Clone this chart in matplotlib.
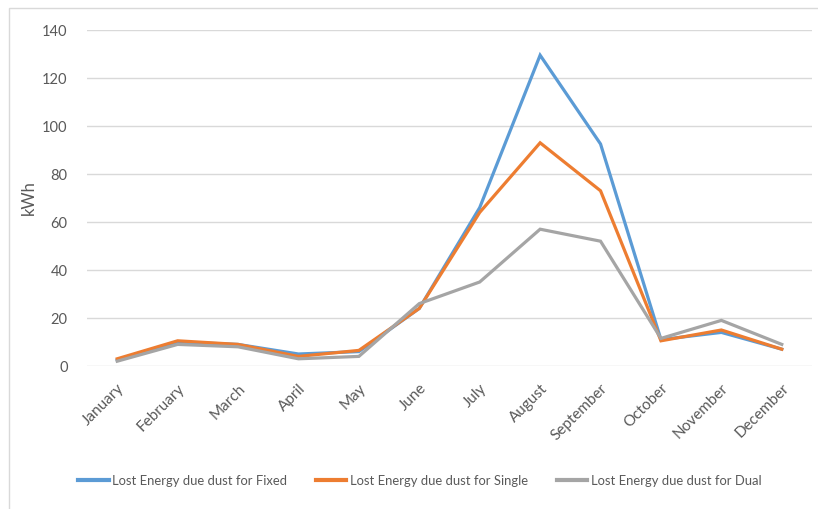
import matplotlib
matplotlib.use("Agg")
import matplotlib.pyplot as plt
from matplotlib.patches import Rectangle

months = ["January", "February", "March", "April", "May", "June",
          "July", "August", "September", "October", "November", "December"]
fixed = [2.5, 10, 9, 5, 6, 24, 66, 129.5, 92.5, 11, 14, 7]
single = [3, 10.5, 9, 4, 6.5, 24, 64, 93, 73, 10.5, 15, 7]
dual = [2, 9, 8, 3, 4, 26, 35, 57, 52, 11.5, 19, 9]
series_names = ["Lost Energy due dust for Fixed",
                "Lost Energy due dust for Single",
                "Lost Energy due dust for Dual"]
colors = ["#5B9BD5", "#ED7D31", "#A5A5A5"]
yticks = [0, 20, 40, 60, 80, 100, 120, 140]

plt.rcParams["font.family"] = ["Lato", "DejaVu Sans"]
text_color = "#595959"

fig = plt.figure(figsize=(8.18, 5.09), dpi=100)
fig.patches.append(Rectangle((9 / 818, -0.1), 1.2, 1 - 8 / 509 + 0.1,
                             transform=fig.transFigure, fill=False,
                             edgecolor="#D9D9D9", linewidth=1.0))

ax = fig.add_axes([87 / 818, 1 - 366 / 509, (812 - 87) / 818, (366 - 30) / 509])
x = range(len(months))
for vals, name, c in zip([fixed, single, dual], series_names, colors):
    ax.plot(x, vals, color=c, linewidth=2.3, label=name,
            solid_joinstyle="miter", zorder=3)

ax.set_xlim(-0.5, len(months) - 0.5)
ax.set_ylim(0, 140)
ax.set_yticks(yticks)
ax.set_yticklabels([str(v) for v in yticks])
ax.yaxis.grid(True, color="#D9D9D9", linewidth=1.0)
ax.set_axisbelow(True)
for s in ax.spines.values():
    s.set_visible(False)
ax.tick_params(axis="both", length=0, colors=text_color)
ax.tick_params(axis="y", pad=14, labelsize=10.5)
ax.set_xticks(list(x))
ax.set_xticklabels(months, rotation=45, ha="right", rotation_mode="anchor")
ax.tick_params(axis="x", pad=11, labelsize=11)
ax.set_ylabel("kWh", color=text_color, fontsize=12, labelpad=4)

leg = fig.legend(loc="center", bbox_to_anchor=(420 / 818, 1 - 481 / 509), ncol=3,
                 frameon=False, fontsize=9.4, handlelength=2.3,
                 columnspacing=2.2, handletextpad=0.3)
for t in leg.get_texts():
    t.set_color(text_color)
for h in leg.legend_handles:
    h.set_linewidth(3)

fig.savefig("out.png", dpi=100)
